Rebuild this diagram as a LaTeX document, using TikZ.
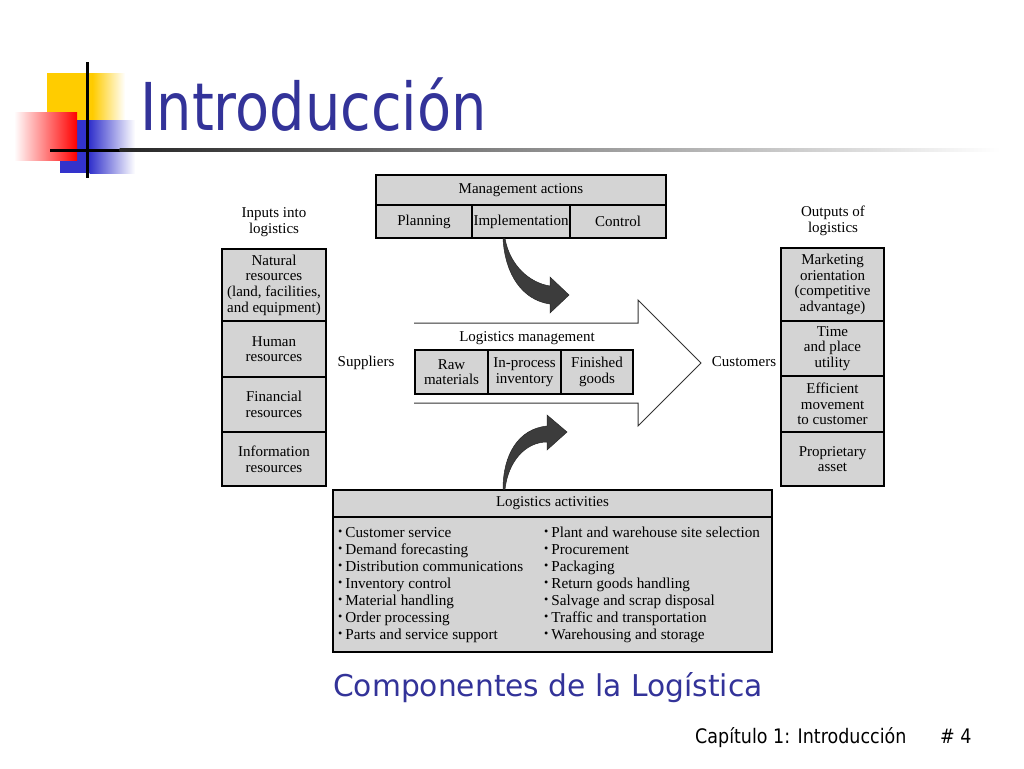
\documentclass[tikz,border=0pt]{standalone}
\usepackage{fontspec}
\usepackage{graphicx}
\setmainfont{Liberation Serif}
\newfontfamily\sansfont{DejaVu Sans}
\definecolor{titleblue}{RGB}{51,51,153}
\definecolor{cellgray}{RGB}{212,212,212}
\definecolor{logoyellow}{RGB}{255,204,0}
\definecolor{logored}{RGB}{255,0,0}
\definecolor{logoblue}{RGB}{51,51,204}
\definecolor{arrowdark}{RGB}{60,60,60}
\newcommand\diagfont{\fontsize{15}{15.6}\selectfont}
\newcommand\actfont{\fontsize{15.2}{17}\selectfont}
\newcommand\bul{\raisebox{0.3ex}{\scalebox{0.8}{•}}\hspace{3pt}}
\tikzset{
  cell/.style={draw=black, line width=1.3pt, fill=cellgray, inner sep=0pt, align=center, font=\diagfont},
  plainlabel/.style={inner sep=0pt, align=center, font=\diagfont},
  bigarrow/.style={draw=black!80, line width=1pt},
  curvedarrow/.style={fill=arrowdark, draw=black!85, line width=0.5pt},
}
\begin{document}
\begin{tikzpicture}[x=1pt,y=-1pt]
\useasboundingbox (0,0) rectangle (1024,768);
\fill[white] (0,0) rectangle (1024,768);

% ---- logo ----
\fill[logoyellow] (47,73) rectangle (93,127);
\shade[left color=logoyellow, right color=white] (92.5,73) rectangle (125,127);
\fill[logoblue] (60,120) rectangle (90,173);
\shade[left color=logoblue, right color=white] (89.5,120) rectangle (135,173);
\shade[left color=white, right color=logored] (14,112) rectangle (77,160);
\fill[black] (50,148.5) rectangle (120,151.5);
\shade[left color=black!85, middle color=black!45, right color=white] (119.5,148.5) rectangle (1000,151.5);
\fill[black] (85.5,62) rectangle (88.5,178);

% ---- titles ----
\node[anchor=base west, inner sep=0pt, text=titleblue] (title) at (140,130)
  {\scalebox{0.845}[1]{\sansfont\fontsize{66}{66}\selectfont Introducción}};
\node[anchor=base west, inner sep=0pt, text=titleblue] (caption) at (333,696)
  {\scalebox{0.99}[1]{\sansfont\fontsize{30}{30}\selectfont Componentes de la Logística}};
\node[anchor=base west, inner sep=0pt] (footer) at (695,743)
  {\scalebox{0.875}[1]{\sansfont\fontsize{20}{20}\selectfont Capítulo 1: Introducción}};
\node[anchor=base west, inner sep=0pt] (pagenum) at (940,743)
  {\scalebox{0.875}[1]{\sansfont\fontsize{20}{20}\selectfont \# 4}};

% ---- management actions ----
\node[cell, minimum width=290pt, minimum height=30pt] (mahead) at (521,190) {Management actions};
\node[cell, minimum width=96pt, minimum height=33pt] (maplan) at (424,221.5) {Planning};
\node[cell, minimum width=98pt, minimum height=33pt] (maimpl) at (521,221.5) {Implementation};
\node[cell, minimum width=96pt, minimum height=33pt] (mactrl) at (618,221.5) {Control};

% ---- inputs ----
\node[plainlabel] (inlabel) at (274,222) {Inputs into\\logistics};
\node[cell, minimum width=104pt, minimum height=72pt] (in1) at (274,285) {Natural\\resources\\(land, facilities,\\and equipment)};
\node[cell, minimum width=104pt, minimum height=56pt] (in2) at (274,349) {Human\\resources};
\node[cell, minimum width=104pt, minimum height=55pt] (in3) at (274,404.5) {Financial\\resources};
\node[cell, minimum width=104pt, minimum height=54pt] (in4) at (274,459) {Information\\resources};

% ---- outputs ----
\node[plainlabel] (outlabel) at (833,221) {Outputs of\\logistics};
\node[cell, minimum width=103pt, minimum height=73pt] (out1) at (832.5,284.5) {Marketing\\orientation\\(competitive\\advantage)};
\node[cell, minimum width=103pt, minimum height=55pt] (out2) at (832.5,348.5) {Time\\and place\\utility};
\node[cell, minimum width=103pt, minimum height=56pt] (out3) at (832.5,404) {Efficient\\movement\\to customer};
\node[cell, minimum width=103pt, minimum height=54pt] (out4) at (832.5,459) {Proprietary\\asset};

% ---- big arrow ----
\draw[bigarrow, line join=miter] (414,323) -- (638,323) -- (638,300) -- (701,363) -- (638,426) -- (638,403) -- (414,403);
\node[plainlabel] (lmlabel) at (527,338) {Logistics management};
\node[cell, minimum width=73pt, minimum height=44pt] (lm1) at (451.5,372) {Raw\\materials};
\node[cell, minimum width=73pt, minimum height=44pt] (lm2) at (524.5,372) {In-process\\inventory};
\node[cell, minimum width=72pt, minimum height=44pt] (lm3) at (597,372) {Finished\\goods};
\node[plainlabel] (suppliers) at (366,363) {Suppliers};
\node[plainlabel] (customers) at (744,362) {Customers};

% ---- logistics activities ----
\node[cell, minimum width=439pt, minimum height=27pt] (lahead) at (552.5,503.5) {Logistics activities};
\node[cell, minimum width=439pt, minimum height=135pt] (labody) at (552.5,584.5) {};
\node[anchor=north west, inner sep=0pt, align=left, font=\actfont] (actl) at (338,525)
 {\strut\bul Customer service\\ \bul Demand forecasting\\ \bul Distribution communications\\ \bul Inventory control\\ \bul Material handling\\ \bul Order processing\\ \bul Parts and service support};
\node[anchor=north west, inner sep=0pt, align=left, font=\actfont] (actr) at (544,525)
 {\strut\bul Plant and warehouse site selection\\ \bul Procurement\\ \bul Packaging\\ \bul Return goods handling\\ \bul Salvage and scrap disposal\\ \bul Traffic and transportation\\ \bul Warehousing and storage};

% ---- curved arrows ----
\coordinate (topstart) at (maimpl.south -| 505,0);
\path[curvedarrow] (topstart) .. controls (510,266) and (530,283) .. (550,286)
  -- (550,277) -- (569,295) -- (550,313) -- (550,304)
  .. controls (522,300) and (505,274) .. ([xshift=-2pt]topstart) -- cycle;
\coordinate (botstart) at (lahead.north -| 503,0);
\path[curvedarrow] (botstart) .. controls (503,455) and (518,429) .. (547,426)
  -- (547,415) -- (567,432) -- (547,450) -- (547,442)
  .. controls (525,442) and (508,462) .. ([xshift=2pt]botstart) -- cycle;
\end{tikzpicture}
\end{document}
